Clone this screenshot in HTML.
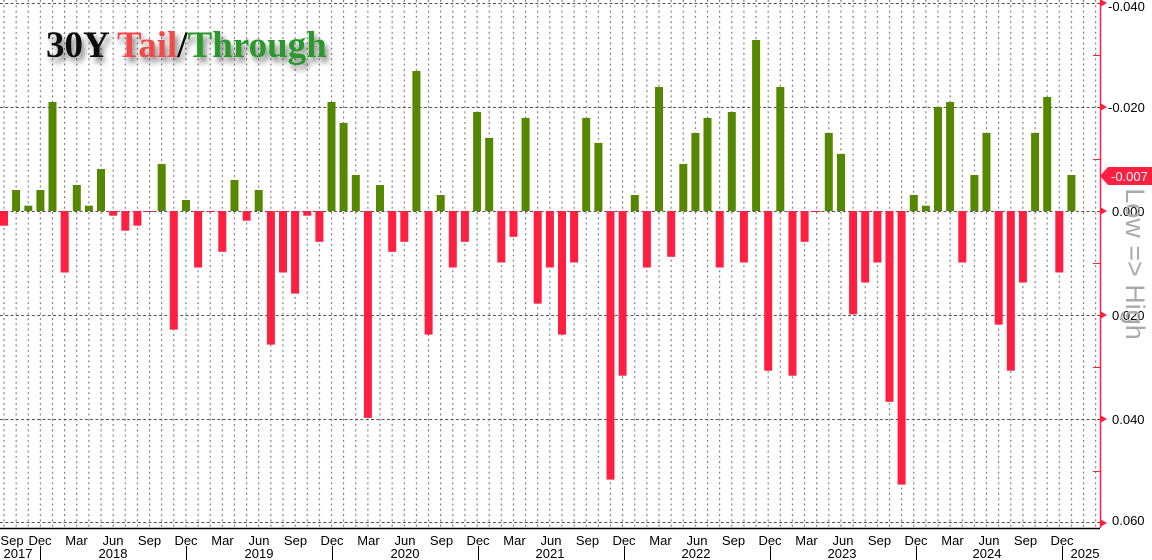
<!DOCTYPE html>
<html><head><meta charset="utf-8"><style>
html,body{margin:0;padding:0;background:#fff;}
svg{display:block;}
</style></head><body>
<svg width="1152" height="560" xmlns="http://www.w3.org/2000/svg" font-family="Liberation Sans, sans-serif">
<defs>
<pattern id="dots" patternUnits="userSpaceOnUse" x="0" y="0" width="12.13" height="5.3"><rect x="3.5" y="0" width="1" height="2" fill="#666"/></pattern>
<filter id="sh" x="-10%" y="-30%" width="130%" height="180%"><feGaussianBlur in="SourceAlpha" stdDeviation="3"/><feOffset dx="3" dy="5"/><feComponentTransfer><feFuncA type="linear" slope="0.5"/></feComponentTransfer><feMerge><feMergeNode/><feMergeNode in="SourceGraphic"/></feMerge></filter>
</defs>
<rect width="1152" height="560" fill="#fff"/>
<rect x="0" y="0" width="1097" height="527" fill="url(#dots)"/>
<g stroke="#555" stroke-width="1" stroke-dasharray="3,2.3">
<line x1="0" x2="1100" y1="3.5" y2="3.5"/>
<line x1="0" x2="1100" y1="107.5" y2="107.5"/>
<line x1="0" x2="1100" y1="211.5" y2="211.5"/>
<line x1="0" x2="1100" y1="315.5" y2="315.5"/>
<line x1="0" x2="1100" y1="419.5" y2="419.5"/>
<line x1="0" x2="1100" y1="522.5" y2="522.5"/>
</g>
<g fill="#558800">
<rect x="12.1" y="190" width="8" height="21"/>
<rect x="24.3" y="205.7" width="8" height="5.3"/>
<rect x="36.4" y="190" width="8" height="21"/>
<rect x="48.5" y="102" width="8" height="109"/>
<rect x="72.8" y="185" width="8" height="26"/>
<rect x="84.9" y="205.7" width="8" height="5.3"/>
<rect x="97.0" y="169" width="8" height="42"/>
<rect x="157.7" y="164" width="8" height="47"/>
<rect x="182.0" y="200" width="8" height="11"/>
<rect x="230.5" y="180" width="8" height="31"/>
<rect x="254.7" y="190" width="8" height="21"/>
<rect x="327.5" y="102" width="8" height="109"/>
<rect x="339.6" y="122.9" width="8" height="88.1"/>
<rect x="351.8" y="175" width="8" height="36"/>
<rect x="376.0" y="185" width="8" height="26"/>
<rect x="412.4" y="71" width="8" height="140"/>
<rect x="436.7" y="195" width="8" height="16"/>
<rect x="473.1" y="112" width="8" height="99"/>
<rect x="485.2" y="137.9" width="8" height="73.1"/>
<rect x="521.6" y="117.9" width="8" height="93.1"/>
<rect x="582.2" y="117.9" width="8" height="93.1"/>
<rect x="594.4" y="142.9" width="8" height="68.1"/>
<rect x="630.8" y="195" width="8" height="16"/>
<rect x="655.0" y="87" width="8" height="124"/>
<rect x="679.3" y="164" width="8" height="47"/>
<rect x="691.4" y="132.9" width="8" height="78.1"/>
<rect x="703.5" y="117.9" width="8" height="93.1"/>
<rect x="727.8" y="112" width="8" height="99"/>
<rect x="752.1" y="40" width="8" height="171"/>
<rect x="776.3" y="87" width="8" height="124"/>
<rect x="824.8" y="132.9" width="8" height="78.1"/>
<rect x="837.0" y="153.9" width="8" height="57.1"/>
<rect x="909.8" y="195" width="8" height="16"/>
<rect x="921.9" y="205.7" width="8" height="5.3"/>
<rect x="934.0" y="107" width="8" height="104"/>
<rect x="946.1" y="102" width="8" height="109"/>
<rect x="970.4" y="175" width="8" height="36"/>
<rect x="982.5" y="132.9" width="8" height="78.1"/>
<rect x="1031.1" y="132.9" width="8" height="78.1"/>
<rect x="1043.2" y="97" width="8" height="114"/>
<rect x="1067.4" y="175" width="8" height="36"/>
</g>
<g fill="#ff1f40">
<rect x="0" y="211" width="8" height="14.7"/>
<rect x="60.7" y="211" width="8" height="61.5"/>
<rect x="109.2" y="211" width="8" height="4.7"/>
<rect x="121.3" y="211" width="8" height="19.7"/>
<rect x="133.4" y="211" width="8" height="14.7"/>
<rect x="145.6" y="211" width="8" height="1"/>
<rect x="169.8" y="211" width="8" height="118.6"/>
<rect x="194.1" y="211" width="8" height="56.5"/>
<rect x="206.2" y="211" width="8" height="1"/>
<rect x="218.3" y="211" width="8" height="40.8"/>
<rect x="242.6" y="211" width="8" height="9.7"/>
<rect x="266.9" y="211" width="8" height="133.6"/>
<rect x="279.0" y="211" width="8" height="61.5"/>
<rect x="291.1" y="211" width="8" height="82.6"/>
<rect x="303.3" y="211" width="8" height="4.7"/>
<rect x="315.4" y="211" width="8" height="30.8"/>
<rect x="363.9" y="211" width="8" height="206.9"/>
<rect x="388.2" y="211" width="8" height="40.8"/>
<rect x="400.3" y="211" width="8" height="30.8"/>
<rect x="424.6" y="211" width="8" height="123.6"/>
<rect x="448.8" y="211" width="8" height="56.5"/>
<rect x="460.9" y="211" width="8" height="30.8"/>
<rect x="497.3" y="211" width="8" height="51.5"/>
<rect x="509.5" y="211" width="8" height="25.8"/>
<rect x="533.7" y="211" width="8" height="92.6"/>
<rect x="545.9" y="211" width="8" height="56.5"/>
<rect x="558.0" y="211" width="8" height="123.6"/>
<rect x="570.1" y="211" width="8" height="51.5"/>
<rect x="606.5" y="211" width="8" height="268.6"/>
<rect x="618.6" y="211" width="8" height="164.7"/>
<rect x="642.9" y="211" width="8" height="56.5"/>
<rect x="667.2" y="211" width="8" height="45.8"/>
<rect x="715.7" y="211" width="8" height="56.5"/>
<rect x="739.9" y="211" width="8" height="51.5"/>
<rect x="764.2" y="211" width="8" height="159.7"/>
<rect x="788.5" y="211" width="8" height="164.7"/>
<rect x="800.6" y="211" width="8" height="30.8"/>
<rect x="812.7" y="211" width="8" height="1"/>
<rect x="849.1" y="211" width="8" height="103.3"/>
<rect x="861.2" y="211" width="8" height="71.5"/>
<rect x="873.4" y="211" width="8" height="51.5"/>
<rect x="885.5" y="211" width="8" height="190.8"/>
<rect x="897.6" y="211" width="8" height="273.6"/>
<rect x="958.3" y="211" width="8" height="51.5"/>
<rect x="994.7" y="211" width="8" height="113.6"/>
<rect x="1006.8" y="211" width="8" height="159.7"/>
<rect x="1018.9" y="211" width="8" height="71.5"/>
<rect x="1055.3" y="211" width="8" height="61.5"/>
</g>
<line x1="0" x2="1100" y1="528.5" y2="528.5" stroke="#000" stroke-width="1.5"/>
<line x1="1100.5" x2="1100.5" y1="0" y2="528" stroke="#ff1f40" stroke-width="1.5"/>
<g fill="#ff1f40">
<path d="M1100,-1 L1107,3 L1100,7 Z"/>
<path d="M1100,103 L1107,107 L1100,111 Z"/>
<path d="M1100,207 L1107,211 L1100,215 Z"/>
<path d="M1100,311 L1107,315 L1100,319 Z"/>
<path d="M1100,415 L1107,419 L1100,423 Z"/>
<path d="M1100,519 L1107,523 L1100,527 Z"/>
</g>
<g stroke="#ff1f40" stroke-width="1">
<line x1="1093" x2="1100" y1="55.5" y2="55.5"/>
<line x1="1093" x2="1100" y1="159.5" y2="159.5"/>
<line x1="1093" x2="1100" y1="263.5" y2="263.5"/>
<line x1="1093" x2="1100" y1="367.5" y2="367.5"/>
<line x1="1093" x2="1100" y1="471.5" y2="471.5"/>
</g>
<g font-size="13" fill="#000">
<text x="1108" y="11">-0.040</text>
<text x="1108" y="112">-0.020</text>
<text x="1112" y="216">0.000</text>
<text x="1112" y="320">0.020</text>
<text x="1112" y="424">0.040</text>
<text x="1112" y="525">0.060</text>
</g>
<path d="M1100,176 L1108,167 L1152,167 L1152,185 L1108,185 Z" fill="#ff1f40"/>
<text x="1111" y="181" font-size="13" fill="#fff">-0.007</text>
<text transform="translate(1126,264) rotate(90)" text-anchor="middle" font-size="27" fill="#aaa">Low =&gt; High</text>
<g font-size="13" fill="#000" text-anchor="middle">
<text x="12" y="545">Sep</text>
<text x="40" y="545">Dec</text><text x="76.5" y="545">Mar</text><text x="113" y="545">Jun</text><text x="149.5" y="545">Sep</text>
<text x="186" y="545">Dec</text><text x="222.5" y="545">Mar</text><text x="259" y="545">Jun</text><text x="295.5" y="545">Sep</text>
<text x="332" y="545">Dec</text><text x="368.5" y="545">Mar</text><text x="405" y="545">Jun</text><text x="441.5" y="545">Sep</text>
<text x="478" y="545">Dec</text><text x="514.5" y="545">Mar</text><text x="551" y="545">Jun</text><text x="587.5" y="545">Sep</text>
<text x="624" y="545">Dec</text><text x="660.5" y="545">Mar</text><text x="697" y="545">Jun</text><text x="733.5" y="545">Sep</text>
<text x="770" y="545">Dec</text><text x="806.5" y="545">Mar</text><text x="843" y="545">Jun</text><text x="879.5" y="545">Sep</text>
<text x="916" y="545">Dec</text><text x="952.5" y="545">Mar</text><text x="989" y="545">Jun</text><text x="1025.5" y="545">Sep</text>
<text x="1062" y="545">Dec</text>
</g>
<g stroke="#000" stroke-width="1">
<line x1="40.5" x2="40.5" y1="546" y2="560"/>
<line x1="186.5" x2="186.5" y1="546" y2="560"/>
<line x1="332.5" x2="332.5" y1="546" y2="560"/>
<line x1="478.5" x2="478.5" y1="546" y2="560"/>
<line x1="624.5" x2="624.5" y1="546" y2="560"/>
<line x1="770.5" x2="770.5" y1="546" y2="560"/>
<line x1="916.5" x2="916.5" y1="546" y2="560"/>
<line x1="1062.5" x2="1062.5" y1="546" y2="560"/>
</g>
<g font-size="13" fill="#000" text-anchor="middle">
<text x="18" y="558">2017</text>
<text x="113" y="558">2018</text>
<text x="259" y="558">2019</text>
<text x="405" y="558">2020</text>
<text x="550" y="558">2021</text>
<text x="696" y="558">2022</text>
<text x="842" y="558">2023</text>
<text x="987" y="558">2024</text>
<text x="1085" y="558">2025</text>
</g>
<text x="46" y="57" font-family="Liberation Serif, serif" font-weight="bold" font-size="37" filter="url(#sh)"><tspan fill="#111">30Y </tspan><tspan fill="#f24848">Tail</tspan><tspan fill="#111">/</tspan><tspan fill="#2a982a">Through</tspan></text>
</svg>
</body></html>
